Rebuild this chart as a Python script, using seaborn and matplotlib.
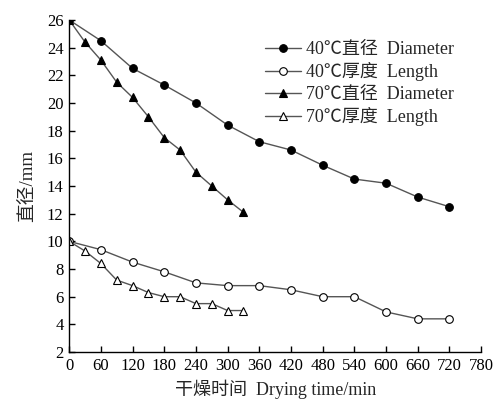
import matplotlib
matplotlib.use("Agg")
import matplotlib.pyplot as plt
import seaborn as sns
import pandas as pd

t40 = [0, 60, 120, 180, 240, 300, 360, 420, 480, 540, 600, 660, 720]
d40 = [26.0, 24.5, 22.5, 21.3, 20.0, 18.4, 17.2, 16.6, 15.5, 14.5, 14.2, 13.2, 12.5]
l40 = [10.0, 9.4, 8.5, 7.8, 7.0, 6.8, 6.8, 6.5, 6.0, 6.0, 4.9, 4.4, 4.4]
t70 = [0, 30, 60, 90, 120, 150, 180, 210, 240, 270, 300, 330]
d70 = [26.0, 24.4, 23.1, 21.5, 20.4, 19.0, 17.5, 16.6, 15.0, 14.0, 13.0, 12.1]
l70 = [10.0, 9.3, 8.4, 7.2, 6.8, 6.3, 6.0, 6.0, 5.5, 5.5, 5.0, 5.0]
labels = ["40℃直径  Diameter", "40℃厚度  Length", "70℃直径  Diameter", "70℃厚度  Length"]
xticks = list(range(0, 781, 60))
yticks = list(range(2, 27, 2))

sns.set_theme(style="ticks")
fam = ["Liberation Serif", "Noto Sans CJK SC", "DejaVu Sans"]
plt.rcParams["font.family"] = fam
plt.rcParams["axes.unicode_minus"] = False

fig = plt.figure(figsize=(4.94, 4.07), dpi=100)
ax = fig.add_axes([0.14, 0.135, 0.834, 0.816])

series = [
    (t40, d40, "o", "black", 5.5),
    (t40, l40, "o", "white", 5.5),
    (t70, d70, "^", "black", 6),
    (t70, l70, "^", "white", 6),
]
for (tx, vy, mk, fc, ms), lab in zip(series, labels):
    df = pd.DataFrame({"t": tx, "v": vy})
    sns.lineplot(data=df, x="t", y="v", ax=ax, color="#555555", linewidth=1.0,
                 marker=mk, markersize=ms, markerfacecolor=fc,
                 markeredgecolor="black", markeredgewidth=0.8, label=lab)

ax.set_xlim(0, 780)
ax.set_ylim(2, 26)
ax.set_xticks(xticks)
ax.set_yticks(yticks)
ax.tick_params(direction="in", length=4, width=1, labelsize=12, colors="black", pad=4)
for s in ["top", "right"]:
    ax.spines[s].set_visible(False)
for s in ["left", "bottom"]:
    ax.spines[s].set_color("black")
    ax.spines[s].set_linewidth(1.0)
ax.set_xlabel("干燥时间  Drying time/min", fontsize=13, family=fam, labelpad=4)
ax.set_ylabel("直径/mm", fontsize=13.5, family=fam, labelpad=8)
ax.legend(loc="upper left", bbox_to_anchor=(0.445, 0.975), frameon=False,
          handlelength=2.0, handletextpad=0.25, labelspacing=0.25, borderaxespad=0.3,
          prop={"family": fam, "size": 13})
fig.savefig("out.png", dpi=100)
